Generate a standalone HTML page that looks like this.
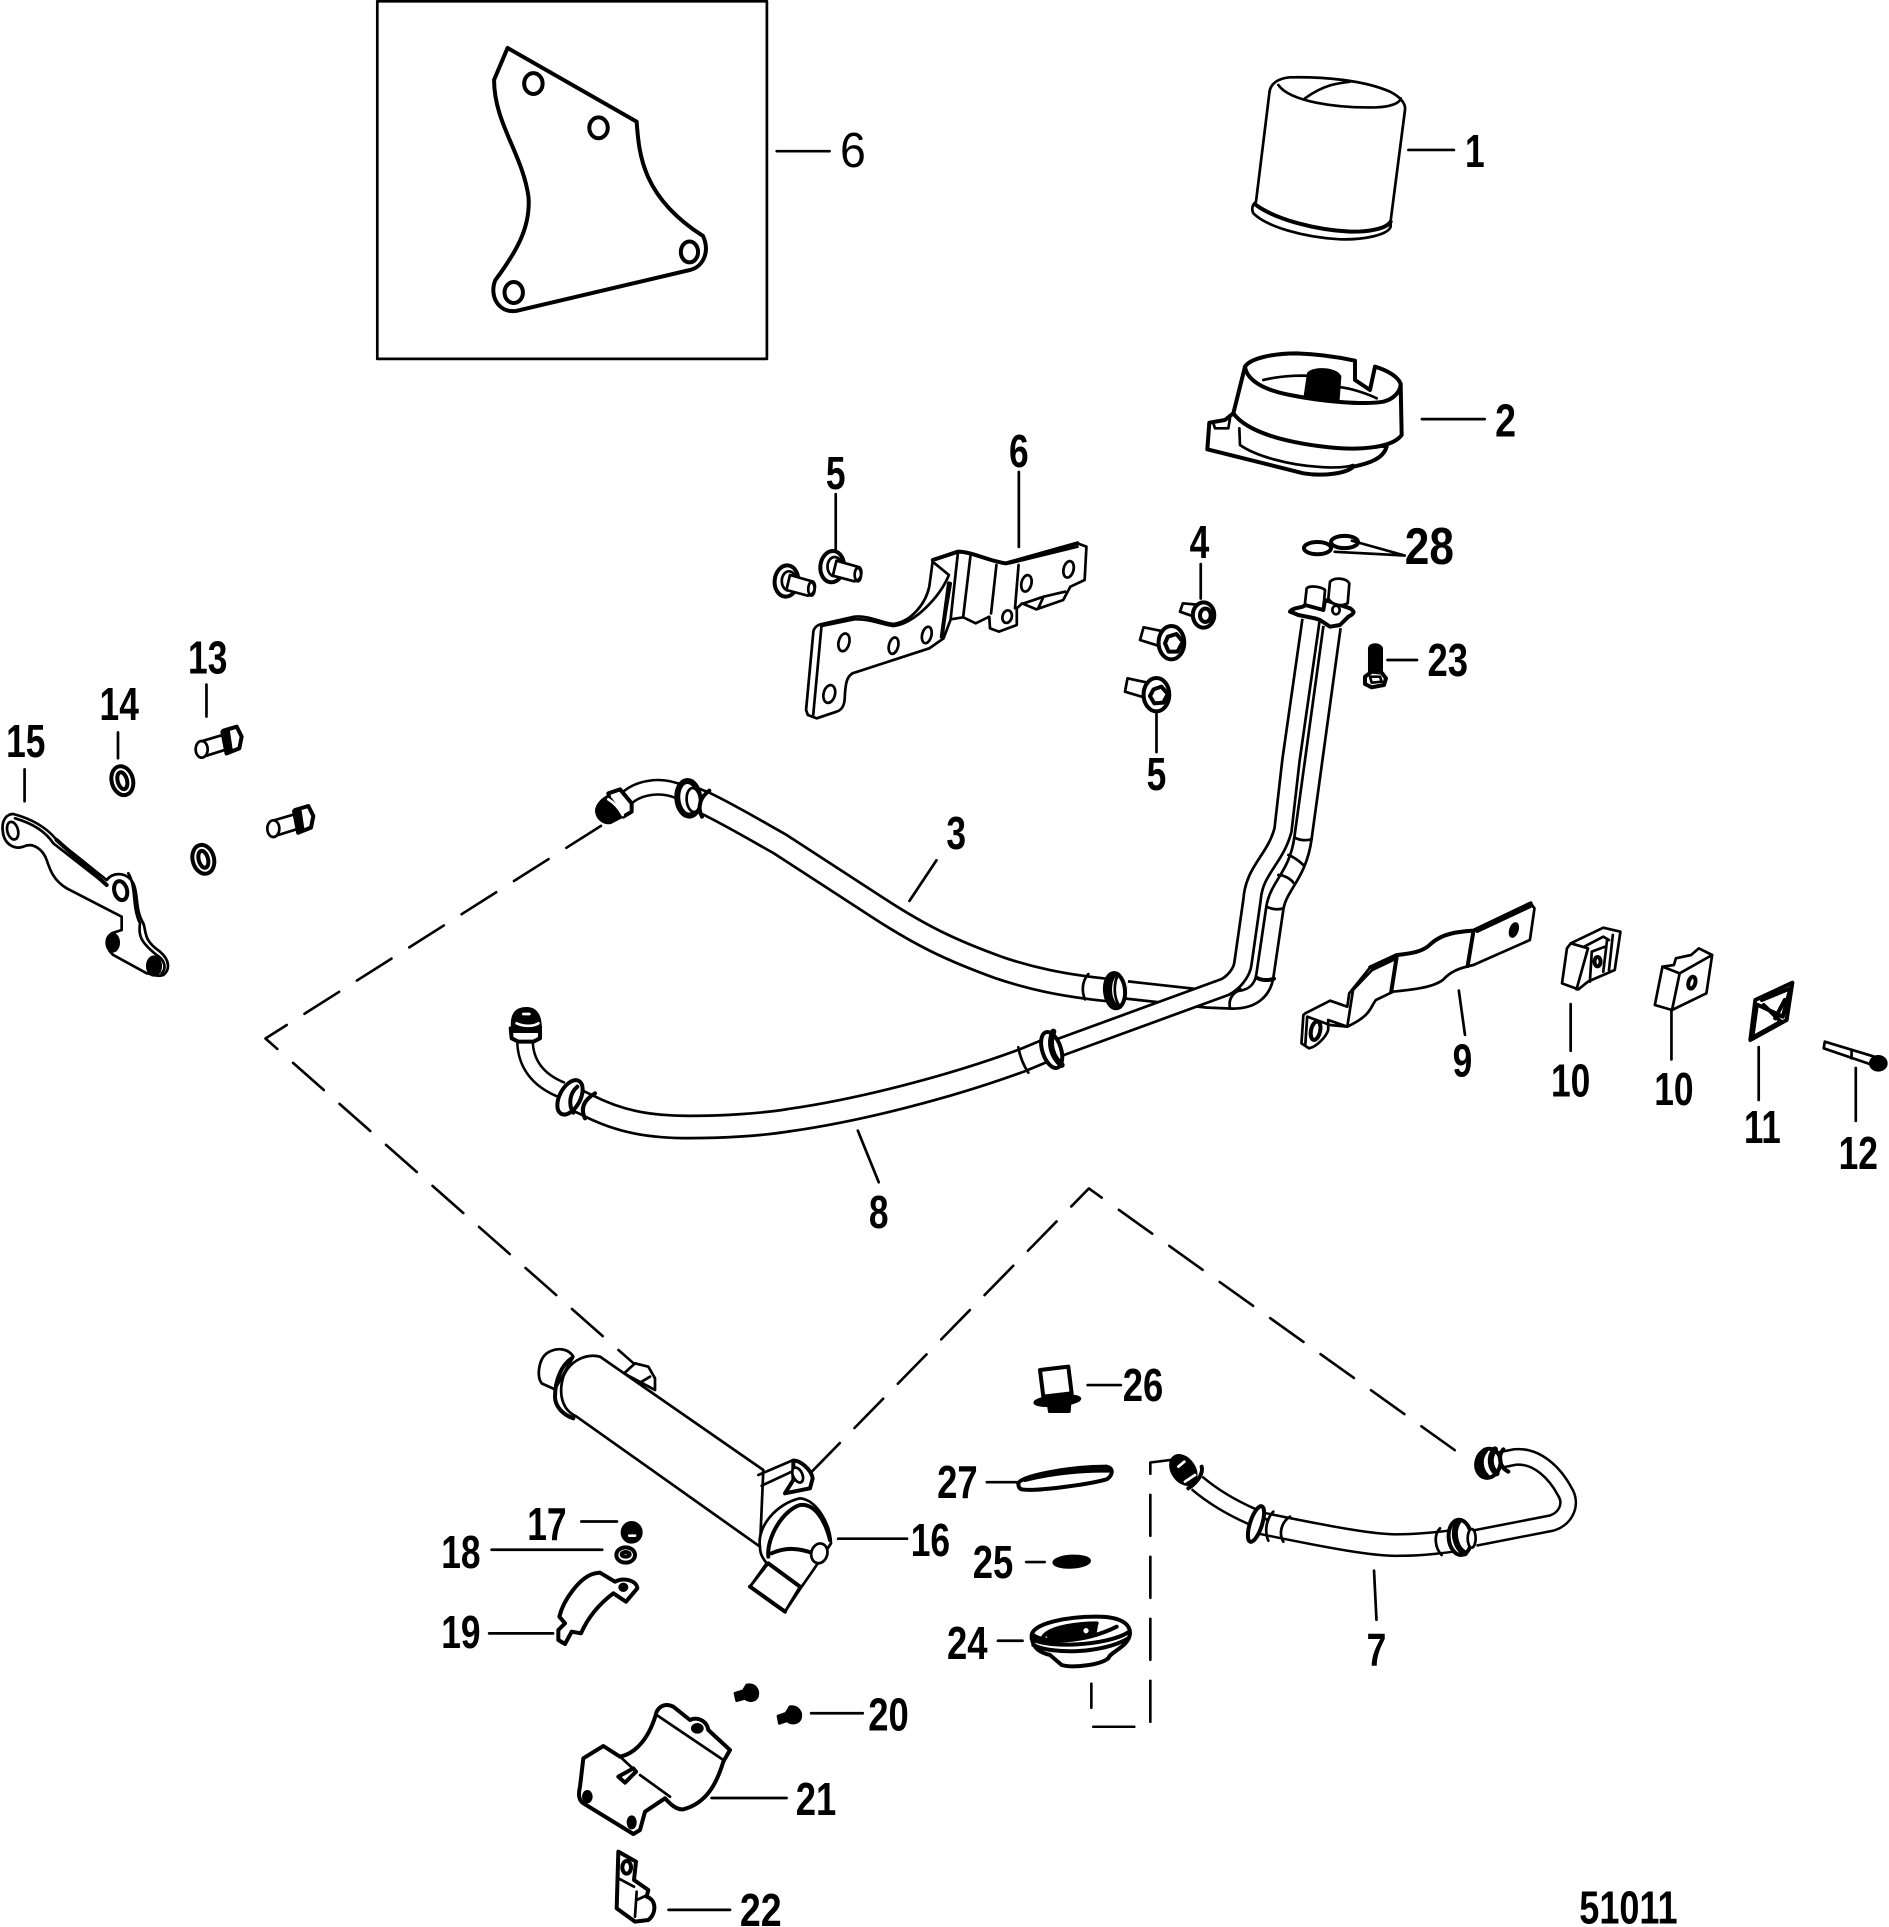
<!DOCTYPE html>
<html><head><meta charset="utf-8"><title>Parts diagram 51011</title>
<style>
html,body{margin:0;padding:0;background:#fff}
svg{display:block}
svg *{vector-effect:non-scaling-stroke}
.l{fill:none;stroke:#000;stroke-width:2.7;stroke-linejoin:round;stroke-linecap:round}
.p path,.p ellipse,.p circle{fill:#fff}
.p path.n,.p ellipse.n{fill:none}
.p .k{fill:#000}
.p .t{stroke-width:4}
.p .b{stroke-width:6}
.d{fill:none;stroke:#000;stroke-width:2.6;stroke-dasharray:41 21}
text{font-family:"Liberation Sans",sans-serif;font-weight:bold;font-size:38px;fill:#000;text-anchor:middle;stroke:none}
</style></head><body>
<svg width="1889" height="1927" viewBox="0 0 1889 1927" xmlns="http://www.w3.org/2000/svg">
<rect width="1889" height="1927" fill="#fff"/>
<defs>
<path id="t3" d="M1127,990 L1208,999 L1233,1000 C1253,1000 1263,990 1265,975 L1275,907 C1279,885 1298,875 1303,838 L1332,627"/>
<path id="t8" d="M1311,620 L1291,760 L1283,830 C1275,860 1254,870 1252,900 L1243,963 C1242,973 1233,983 1225,987 L1047,1052"/>
<path id="h3" d="M690,797 L705,803 C730,815 755,830 780,844 L880,909 C920,935 950,950 1000,968 C1030,978 1060,985 1107,990"/>
<path id="m3" d="M627,798 C638,788 660,783 680,792"/>
<path id="h8" d="M568,1096 L587,1105 C620,1122 650,1127 690,1127 C720,1127 760,1125 790,1120 C860,1110 950,1087 1023,1060 L1047,1050"/>
<path id="m8" d="M525,1040 C525,1063 537,1080 562,1090"/>
<path id="m7a" d="M1197,1483 C1217,1500 1237,1510 1253,1517"/>
<path id="h7" d="M1255,1522 L1265,1524 C1333,1538 1377,1546 1400,1545 C1420,1545 1450,1542 1462,1539"/>
<path id="m7b" d="M1475,1538 L1552,1523 C1567,1518 1572,1503 1565,1492 C1555,1473 1537,1455 1515,1457 L1500,1460"/>
</defs>

<!-- tubes and hoses -->
<g fill="none" stroke-linejoin="round">
<use href="#t3" stroke="#000" stroke-width="20"/><use href="#t3" stroke="#fff" stroke-width="14.6"/>
<use href="#t8" stroke="#000" stroke-width="20"/><use href="#t8" stroke="#fff" stroke-width="14.6"/>
<use href="#m3" stroke="#000" stroke-width="17"/><use href="#m3" stroke="#fff" stroke-width="12"/>
<use href="#h3" stroke="#000" stroke-width="25"/><use href="#h3" stroke="#fff" stroke-width="19.6"/>
<use href="#m8" stroke="#000" stroke-width="18"/><use href="#m8" stroke="#fff" stroke-width="13"/>
<use href="#h8" stroke="#000" stroke-width="25"/><use href="#h8" stroke="#fff" stroke-width="19.6"/>
<use href="#m7a" stroke="#000" stroke-width="19"/><use href="#m7a" stroke="#fff" stroke-width="14"/>
<use href="#h7" stroke="#000" stroke-width="24"/><use href="#h7" stroke="#fff" stroke-width="19"/>
<use href="#m7b" stroke="#000" stroke-width="18"/><use href="#m7b" stroke="#fff" stroke-width="13"/>
</g>

<!-- hose 3 left end -->
<g class="p l" transform="translate(580 760) scale(.33333)">
<path class="t" d="M85,100 L120,88 L155,130 L155,155 L130,170 L90,130 Z"/>
<path class="k" d="M85,108 C62,120 45,140 50,160 C55,180 75,192 92,188 L130,168 L95,120 Z"/>
<path class="n" style="stroke:#fff" d="M85,118 C105,130 120,150 128,165"/>
<ellipse cx="325" cy="115" rx="33" ry="52" class="b" transform="rotate(-5 325 115)"/>
<ellipse cx="340" cy="120" rx="20" ry="36" transform="rotate(-5 340 120)"/>
<path class="n t" d="M388,92 C362,110 350,140 366,170"/>
</g>

<!-- hose 8 left end -->
<g class="p l" transform="translate(490 990) scale(.33333)">
<path class="t" d="M62,115 L150,110 L150,145 L130,155 L85,155 L65,145 Z"/>
<path class="k" d="M68,125 C62,80 72,55 110,55 C142,55 155,85 150,125 Z"/>
<path class="n" style="stroke:#fff" d="M80,100 C100,110 130,110 145,100 M100,72 L118,72"/>
<ellipse cx="240" cy="322" rx="31" ry="56" class="t" transform="rotate(28 240 322)"/>
<path class="n t" d="M262,290 C238,310 235,345 250,368 M315,310 C282,330 270,355 285,385"/>
</g>

<!-- tube junction rings -->
<g class="p l" transform="translate(1000 900) scale(.33333)">
<path class="n" d="M265,222 C245,245 245,275 255,298"/>
<ellipse cx="345" cy="272" rx="30" ry="53" class="t" transform="rotate(-5 345 272)"/>
<path class="n b" d="M340,224 C322,250 322,295 345,318"/>
<path class="n" d="M355,222 C340,250 340,295 360,320"/>
<path class="n" d="M55,442 C60,470 70,495 85,518"/>
<ellipse cx="155" cy="450" rx="28" ry="56" class="t" transform="rotate(-18 155 450)"/>
<path class="n b" d="M160,395 C145,430 155,470 185,495"/>
<path class="n t" d="M770,233 C785,242 805,242 822,236"/>
<path class="n" d="M722,268 C695,280 685,300 690,325"/>
</g>

<!-- tube bands -->
<g class="l" transform="translate(1260 560) scale(.33333)">
<path d="M105,833 C120,842 140,842 155,838 M85,885 C100,890 120,905 130,915 M55,945 C75,945 95,960 100,968 M20,1040 C35,1048 55,1050 70,1045"/>
</g>

<!-- hose 7 ends -->
<g class="p l" transform="translate(1150 1420) scale(.33333)">
<ellipse cx="100" cy="150" rx="33" ry="48" class="k" transform="rotate(-35 100 150)"/>
<path class="n" style="stroke:#fff" d="M85,140 L103,125 M105,185 L135,165"/>
<path class="n t" d="M155,140 C160,160 145,185 115,205"/>
<ellipse cx="318" cy="312" rx="18" ry="56" class="t" transform="rotate(18 318 312)"/>
<path class="n" d="M370,275 C345,300 345,340 355,362 M420,290 C395,305 385,340 400,365 M340,295 L355,300"/>
<path class="n" d="M870,325 C850,345 855,385 875,405"/>
<ellipse cx="930" cy="352" rx="34" ry="53" class="t" transform="rotate(-5 930 352)"/>
<path class="n b" d="M925,305 C905,330 915,385 945,400"/>
<ellipse cx="965" cy="355" rx="12" ry="28"/>
<ellipse cx="1015" cy="130" rx="36" ry="44" class="t" transform="rotate(15 1015 130)"/>
<path class="n b" d="M1005,92 C985,115 990,150 1010,170 M1035,88 C1015,110 1020,145 1040,160"/>
<path class="n t" d="M1060,88 C1045,105 1045,140 1075,155"/>
</g>

<!-- scale from overview coordinates -->
<g transform="scale(1.229)">
<rect x="307" y="1" width="317" height="291" class="l"/>
<g class="p l">
<path class="t" d="M413,39 L518,99 C520,125 522,160 572,192 C578,205 572,218 560,220 L420,253 C405,255 398,240 403,228 C420,205 432,185 430,160 C425,125 402,100 402,65 Z"/>
<ellipse cx="434" cy="68" rx="7.5" ry="8.5" class="t"/><ellipse cx="487" cy="104" rx="7.5" ry="8.5" class="t"/>
<ellipse cx="561" cy="205" rx="7" ry="8.5" class="t"/><ellipse cx="418" cy="238" rx="7.5" ry="8.5" class="t"/>
</g>
<g class="l">
<path class="d" d="M489,672 L216,845 L522,1115"/>
<path class="d" d="M660,1198 L886,967 L1195,1188"/>
<path class="d" d="M960,1187 L936,1190 L936,1405 L888,1405 L888,1370"/>
<g class="p"><ellipse cx="1072" cy="446" rx="11" ry="5" class="t"/><ellipse cx="1094" cy="441" rx="11" ry="5" class="t"/></g>
<path d="M632,123H675M1146,122H1183M1157,341H1208M680,402V450M829,384V445M977,459V487M1143,452L1100,440M1143,452L1086,449M1129,537H1153M941,575V612M168,557V583M96,596V617M20,626V652M740,733L762,700M1187,806L1192,842M1278,817V855M1360,817V862M1431,852V895M1510,869V912M698,920L715,962M885,1127H912M803,1206H828M473,1238H502M400,1261H490M682,1252H738M835,1271H850M398,1329H450M812,1335H832M1118,1278L1120,1318M660,1394H702M579,1463H640M544,1554H594"/>
</g>
<text x="694" y="136" textLength="21" lengthAdjust="spacingAndGlyphs" style="font-weight:normal;font-size:40px">6</text>
<text x="1200" y="136" textLength="16" lengthAdjust="spacingAndGlyphs">1</text>
<text x="1225" y="355" textLength="17" lengthAdjust="spacingAndGlyphs">2</text>
<text x="680" y="398" textLength="16" lengthAdjust="spacingAndGlyphs">5</text>
<text x="829" y="380" textLength="16" lengthAdjust="spacingAndGlyphs">6</text>
<text x="976" y="454" textLength="16" lengthAdjust="spacingAndGlyphs">4</text>
<text x="1163" y="459" textLength="40" lengthAdjust="spacingAndGlyphs" style="font-size:42px">28</text>
<text x="1178" y="550" textLength="33" lengthAdjust="spacingAndGlyphs">23</text>
<text x="941" y="643" textLength="16" lengthAdjust="spacingAndGlyphs">5</text>
<text x="169" y="548" textLength="32" lengthAdjust="spacingAndGlyphs">13</text>
<text x="97" y="586" textLength="32" lengthAdjust="spacingAndGlyphs">14</text>
<text x="21" y="616" textLength="32" lengthAdjust="spacingAndGlyphs">15</text>
<text x="778" y="691" textLength="16" lengthAdjust="spacingAndGlyphs">3</text>
<text x="1190" y="876" textLength="16" lengthAdjust="spacingAndGlyphs">9</text>
<text x="1278" y="892" textLength="32" lengthAdjust="spacingAndGlyphs">10</text>
<text x="1362" y="899" textLength="32" lengthAdjust="spacingAndGlyphs">10</text>
<text x="1434" y="930" textLength="30" lengthAdjust="spacingAndGlyphs">11</text>
<text x="1512" y="951" textLength="32" lengthAdjust="spacingAndGlyphs">12</text>
<text x="715" y="999" textLength="16" lengthAdjust="spacingAndGlyphs">8</text>
<text x="930" y="1140" textLength="33" lengthAdjust="spacingAndGlyphs">26</text>
<text x="779" y="1219" textLength="33" lengthAdjust="spacingAndGlyphs">27</text>
<text x="445" y="1253" textLength="32" lengthAdjust="spacingAndGlyphs">17</text>
<text x="375" y="1276" textLength="32" lengthAdjust="spacingAndGlyphs">18</text>
<text x="757" y="1266" textLength="32" lengthAdjust="spacingAndGlyphs">16</text>
<text x="808" y="1284" textLength="33" lengthAdjust="spacingAndGlyphs">25</text>
<text x="375" y="1341" textLength="32" lengthAdjust="spacingAndGlyphs">19</text>
<text x="787" y="1350" textLength="33" lengthAdjust="spacingAndGlyphs">24</text>
<text x="1120" y="1355" textLength="16" lengthAdjust="spacingAndGlyphs">7</text>
<text x="723" y="1408" textLength="33" lengthAdjust="spacingAndGlyphs">20</text>
<text x="664" y="1477" textLength="33" lengthAdjust="spacingAndGlyphs">21</text>
<text x="619" y="1567" textLength="34" lengthAdjust="spacingAndGlyphs">22</text>
<text x="1325" y="1565" textLength="80" lengthAdjust="spacingAndGlyphs">51011</text>
</g>

<!-- parts 1,2 -->
<g class="p l" transform="translate(1150 30) scale(.33333)">
<path d="M318,515 L358,190 C360,160 385,145 420,142 C520,140 640,150 720,185 C750,200 768,220 765,240 L722,572 L722,590 C715,615 640,630 570,628 C460,622 350,590 310,550 C305,540 305,525 318,515 Z"/>
<path class="n" d="M385,165 C420,215 560,235 680,232 C720,230 750,220 752,205 M465,205 C520,165 560,160 600,155"/>
<path class="n t" d="M318,525 C380,570 500,600 600,605 C660,606 710,595 722,575"/>
<path d="M250,1150 L225,1170 L178,1178 L172,1258 L460,1330 C520,1340 590,1330 610,1310 C660,1300 700,1285 710,1250 L400,1190 Z" class="t"/>
<path class="n" d="M268,1195 L270,1245 C320,1280 420,1305 500,1310 C560,1315 590,1312 610,1305 M190,1180 L195,1195 L235,1195 L240,1165"/>
<path class="t" d="M285,1010 C300,985 370,970 440,970 C500,972 560,980 615,992 L615,1050 L660,1080 L675,1010 C710,1020 745,1040 752,1062 L755,1215 C730,1250 640,1265 520,1250 C400,1235 290,1205 250,1150 Z"/>
<path class="n" d="M340,1050 C400,1035 470,1035 500,1040 M560,1070 C610,1075 660,1095 680,1105"/>
<path class="k" d="M475,1030 C490,1012 560,1015 570,1040 L565,1108 L465,1098 Z"/>
<path class="n t" d="M285,1010 C290,1050 340,1080 420,1095 C520,1115 640,1125 700,1115 C730,1108 752,1085 752,1062"/>
</g>

<!-- bracket 6 + bolts -->
<g class="p l" transform="translate(740 500) scale(.35714 .33333)">
<path d="M205,400 C205,385 215,375 230,372 L320,350 C360,345 400,370 430,372 C480,365 520,310 530,260 L540,180 L610,155 C650,155 700,185 745,190 L945,130 L970,140 L965,240 L925,260 L905,300 L830,328 L790,310 L775,325 L775,375 L725,395 L700,385 L698,350 L660,370 L625,352 L590,358 L570,415 L530,445 L315,520 C300,530 295,545 293,600 C290,625 280,632 270,635 L215,655 L190,645 L185,630 Z"/>
<path class="n" d="M228,380 L205,645 M228,378 L320,358 C360,355 400,375 430,378 C490,370 560,290 585,225 L545,190 M590,250 L565,410 M610,160 L590,355 M645,170 L625,350 M718,195 L703,340 M780,195 L770,325 M755,190 L945,140"/>
<path class="n t" d="M585,250 L565,410 M540,180 L610,155 C650,155 700,185 745,190 L945,130"/>
<ellipse cx="291" cy="427" rx="15" ry="27" transform="rotate(12 291 427)"/><ellipse cx="430" cy="437" rx="13" ry="25" transform="rotate(12 430 437)"/><ellipse cx="523" cy="405" rx="13" ry="25" transform="rotate(12 523 405)"/><ellipse cx="250" cy="582" rx="16" ry="27" transform="rotate(12 250 582)"/><ellipse cx="802" cy="250" rx="14" ry="25" transform="rotate(12 802 250)"/><ellipse cx="920" cy="208" rx="14" ry="25" transform="rotate(12 920 208)"/><ellipse cx="748" cy="350" rx="13" ry="19" transform="rotate(12 748 350)"/>
<path class="n" d="M795,310 L850,290 L835,325 M850,290 L910,275"/>
<ellipse cx="130" cy="243" rx="33" ry="47" class="t" transform="rotate(5 130 243)"/><ellipse cx="137" cy="243" rx="20" ry="29"/><path d="M140,225 L205,245 C215,255 210,285 190,287 L130,270 Z"/><ellipse cx="200" cy="267" rx="9" ry="20" class="n"/>
<ellipse cx="258" cy="200" rx="33" ry="47" class="t" transform="rotate(5 258 200)"/><ellipse cx="265" cy="200" rx="20" ry="29"/><path d="M270,182 L335,202 C345,212 340,242 320,244 L260,227 Z"/><ellipse cx="330" cy="224" rx="9" ry="20" class="n"/>
<path d="M1290,315 L1240,310 L1232,335 L1285,355 Z"/><ellipse cx="1298" cy="345" rx="30" ry="38" class="t"/><ellipse cx="1303" cy="346" rx="15" ry="20" class="t"/>
<path d="M1190,395 L1130,382 L1120,420 L1180,440 Z"/><ellipse cx="1208" cy="428" rx="36" ry="50" class="t"/><path class="t" d="M1198,410 L1222,402 L1240,425 L1225,455 L1200,455 L1190,430 Z"/>
<path d="M1150,550 L1085,535 L1078,575 L1140,595 Z"/><ellipse cx="1166" cy="584" rx="36" ry="50" class="t"/><path class="t" d="M1158,568 L1180,560 L1198,582 L1185,608 L1160,610 L1148,588 Z"/>
</g>

<!-- top of tubes + bolt 23 -->
<g class="p l" transform="translate(1260 560) scale(.33333)">
<path d="M135,130 L140,85 C150,75 185,80 195,90 L190,150 L135,140 Z"/>
<path class="t" d="M90,155 C100,140 130,145 135,135 L190,150 L195,120 L270,145 C285,155 285,160 265,170 L240,195 L210,200 L180,180 L165,175 L115,165 Z"/>
<path d="M205,115 L210,65 C225,50 260,55 268,70 L263,130 C245,140 215,135 205,115 Z"/>
<ellipse cx="228" cy="150" rx="11" ry="13"/>
<path class="k" d="M328,340 L328,265 C330,250 360,250 365,265 L365,335 Z"/>
<path class="t" d="M315,350 L335,335 L365,338 L378,355 L372,375 L335,382 L315,372 Z"/>
<path class="n" d="M330,350 L360,350 L365,365 L335,368 Z"/>
</g>

<!-- strap 9, clips, 11, 12 -->
<g class="p l" transform="translate(1290 890) scale(.38202 .33333)">
<path d="M40,370 L105,332 L150,350 L155,310 L210,232 L280,195 C320,190 350,185 370,160 C400,130 440,125 480,122 L630,40 L640,55 L628,150 L480,225 C440,235 420,245 400,270 C370,295 310,300 270,305 L225,330 C210,350 215,375 150,410 L100,390 L100,420 C95,440 70,470 50,475 L30,460 L35,375 Z"/>
<path class="n t" d="M280,195 L265,305 M480,125 L465,228 M210,232 L280,195 C320,190 350,185 370,160 C400,130 440,125 480,122 L630,40"/>
<path class="n" d="M45,380 L105,405 L150,410 L165,300 L215,240 L280,205 M490,125 L630,50 M45,380 L40,465"/>
<ellipse cx="586" cy="120" rx="9" ry="20" class="k" transform="rotate(15 586 120)"/><ellipse cx="67" cy="422" rx="12" ry="28" class="t" transform="rotate(10 67 422)"/>
<path d="M735,160 L820,113 L865,125 L850,240 L810,260 L780,275 L755,298 L712,280 L725,175 Z"/>
<path class="n" d="M735,160 L780,175 L750,298 M770,170 L820,140 L835,150 M790,185 L785,275 M830,150 L820,245 M845,135 L835,240 M790,185 L825,170"/>
<ellipse cx="805" cy="215" rx="8" ry="14" class="t"/>
<path d="M975,230 L1005,225 L1010,205 L1050,195 L1070,175 L1105,195 L1090,310 L1000,360 L955,345 Z"/>
<path class="n" d="M975,230 L1020,250 L1000,360 M1020,250 L1105,195"/>
<ellipse cx="1052" cy="278" rx="9" ry="18" class="t" transform="rotate(12 1052 278)"/>
<path class="t" d="M1218,330 L1315,278 L1300,390 L1205,450 Z"/>
<path class="n t" d="M1225,345 L1290,380 M1235,330 L1310,295 M1222,345 L1210,445 M1240,345 L1285,395 L1215,440 M1290,380 L1310,295 M1295,330 L1270,385"/>
<path d="M1400,455 L1530,500 L1525,525 L1397,475 Z"/><path class="n" d="M1470,485 L1470,505"/>
<circle cx="1540" cy="520" r="21" class="k"/>
</g>

<!-- part 15,14,13 -->
<g class="p l" transform="translate(0 640) scale(.33333)">
<path d="M40,522 C70,530 130,550 170,600 L320,720 C340,695 380,695 400,730 C415,760 405,810 430,850 C440,880 430,900 480,935 C510,960 510,990 490,1005 C470,1012 450,1000 440,1000 L340,945 C320,930 315,900 335,880 L365,870 L365,830 L200,745 C160,720 150,690 140,660 C130,630 100,605 70,620 C40,630 10,610 8,570 C5,540 20,522 40,522 Z"/>
<path class="n" d="M45,535 C80,545 130,565 160,610 L320,735 M385,700 C410,740 395,800 420,850 C415,885 420,905 470,945 C495,960 500,985 485,1000"/>
<path class="n t" d="M170,600 L320,735"/>
<ellipse cx="38" cy="572" rx="16" ry="27" transform="rotate(-15 38 572)"/><ellipse cx="362" cy="752" rx="19" ry="29" class="t" transform="rotate(-15 362 752)"/>
<ellipse cx="338" cy="908" rx="18" ry="26" class="k"/><ellipse cx="462" cy="978" rx="20" ry="28" class="k"/>
<ellipse cx="367" cy="422" rx="32" ry="44" class="t" transform="rotate(-15 367 422)"/><ellipse cx="367" cy="422" rx="14" ry="26" class="t" transform="rotate(-15 367 422)"/>
<ellipse cx="610" cy="658" rx="32" ry="44" class="t" transform="rotate(-15 610 658)"/><ellipse cx="610" cy="658" rx="14" ry="26" class="t" transform="rotate(-15 610 658)"/>
<path d="M600,305 L685,280 L690,325 L610,350 Z"/><ellipse cx="605" cy="328" rx="18" ry="25"/><path class="t" d="M670,272 L710,260 L725,290 L718,325 L680,340 Z"/><path class="k" d="M665,275 L685,268 L695,335 L678,342 Z"/>
<path d="M815,543 L900,518 L905,563 L825,588 Z"/><ellipse cx="820" cy="566" rx="18" ry="25"/><path class="t" d="M885,510 L925,498 L940,528 L933,563 L895,578 Z"/><path class="k" d="M880,513 L900,506 L910,573 L893,580 Z"/>
</g>

<!-- cooler 16 etc -->
<g class="p l" transform="translate(500 1340) scale(.33333)">
<path d="M220,50 C205,25 170,20 140,40 C115,60 110,110 125,130 L165,148 Z"/>
<path d="M372,100 L405,70 L445,80 L465,115 L465,150 Z"/><path class="n" d="M425,125 L450,110"/>
<path d="M300,50 L790,390 L780,620 L230,230 C185,210 175,160 190,110 C210,60 260,40 300,50 Z"/>
<path class="n t" d="M215,55 C185,75 165,120 165,170 C165,200 190,225 220,235"/>
<path class="n" d="M775,405 L880,360 M785,437 L875,395"/>
<path d="M880,362 C900,360 935,390 938,415 L930,445 L855,460 L880,420 Z" class="t"/><ellipse cx="893" cy="405" rx="14" ry="24" transform="rotate(-25 893 405)"/>
<path d="M780,620 C770,560 830,490 900,475 C950,480 990,550 993,610 L940,690 L905,740 L855,815 L750,740 L800,670 C785,650 780,640 780,620 Z"/>
<path class="n t" d="M805,650 C800,590 850,510 900,495 C945,490 975,540 990,600 M815,640 C860,620 900,625 940,640 M805,670 L900,740 M750,740 L855,815"/>
<path class="n" d="M805,670 L750,740 M900,740 L855,815"/>
<ellipse cx="958" cy="640" rx="24" ry="30" transform="rotate(15 958 640)"/>
<ellipse cx="395" cy="577" rx="29" ry="30" class="k"/><path class="n" style="stroke:#fff" d="M388,587 L405,587"/>
<ellipse cx="377" cy="645" rx="28" ry="23" class="t"/><ellipse cx="377" cy="643" rx="12" ry="7" class="t"/>
<path class="t" d="M300,698 L345,725 C370,712 410,720 412,745 L378,785 L340,760 C300,790 265,830 243,880 L215,875 L195,912 L175,900 L175,870 L195,850 L178,830 C190,780 240,710 285,700 Z"/>
<ellipse cx="370" cy="742" rx="11" ry="10" class="k"/>
</g>

<!-- 21, 22, 20 -->
<g class="p l" transform="translate(560 1660) scale(.33333)">
<path class="t" d="M290,155 C300,135 320,130 340,140 L390,180 C410,170 440,180 445,210 L510,270 L490,305 C470,370 440,430 370,448 C345,450 325,425 315,415 L255,455 L240,510 L220,522 L70,430 C55,420 55,400 60,380 L70,295 L130,258 L180,290 C230,280 270,230 290,155 Z"/>
<path class="n" d="M290,165 L490,300 M130,258 L180,290 L215,322 M240,345 L330,410"/>
<path d="M175,350 L220,325 L228,335 L195,368 Z" class="t"/>
<ellipse cx="82" cy="410" rx="12" ry="16" class="k"/><ellipse cx="215" cy="487" rx="11" ry="17" class="k"/><ellipse cx="412" cy="205" rx="15" ry="12" class="k"/>
<path class="k" d="M560,75 C585,70 598,90 592,110 C585,125 565,125 555,115 L530,122 L525,100 L550,92 Z"/>
<path class="k" d="M690,140 C715,138 728,158 720,178 C712,192 690,192 682,182 L658,190 L654,168 L678,160 Z"/>
<path class="t" d="M175,575 L228,605 L222,660 L265,690 L260,710 C290,720 290,760 265,780 L225,785 L170,745 Z"/>
<ellipse cx="200" cy="622" rx="13" ry="19" class="t"/>
<path class="n" d="M175,655 L222,680 M230,695 L225,770 M262,705 L230,720"/>
</g>

<!-- 26,27,25,24 -->
<g class="p l" transform="translate(1000 1360) scale(.33333)">
<path class="t" d="M120,30 L205,20 L215,100 L130,110 Z"/>
<ellipse cx="172" cy="122" rx="68" ry="14" class="k" transform="rotate(-5 172 122)"/>
<path class="k" d="M145,135 L210,130 L208,155 L148,155 Z"/>
<path class="t" d="M55,370 C60,350 200,320 320,320 C345,325 335,350 320,358 C260,375 100,395 65,388 C55,385 55,375 55,370 Z"/>
<path class="n t" d="M75,360 C150,340 250,330 325,332"/>
<ellipse cx="215" cy="605" rx="54" ry="17" class="k" transform="rotate(-3 215 605)"/>
<path class="t" d="M95,825 C100,790 200,770 290,770 C360,770 390,790 390,820 C388,860 330,875 325,895 C300,915 220,925 185,915 L150,885 C130,880 95,870 95,825 Z"/>
<path class="n t" d="M95,835 C130,865 320,860 388,815 M100,855 C160,885 310,880 385,835 M100,825 C130,850 250,850 350,800 M130,830 C150,800 240,790 290,790"/>
<path class="k" d="M140,820 C180,795 240,790 290,795 L285,825 L150,840 Z"/>
<ellipse cx="258" cy="812" rx="12" ry="12"/>
</g>
</svg>
</body></html>
